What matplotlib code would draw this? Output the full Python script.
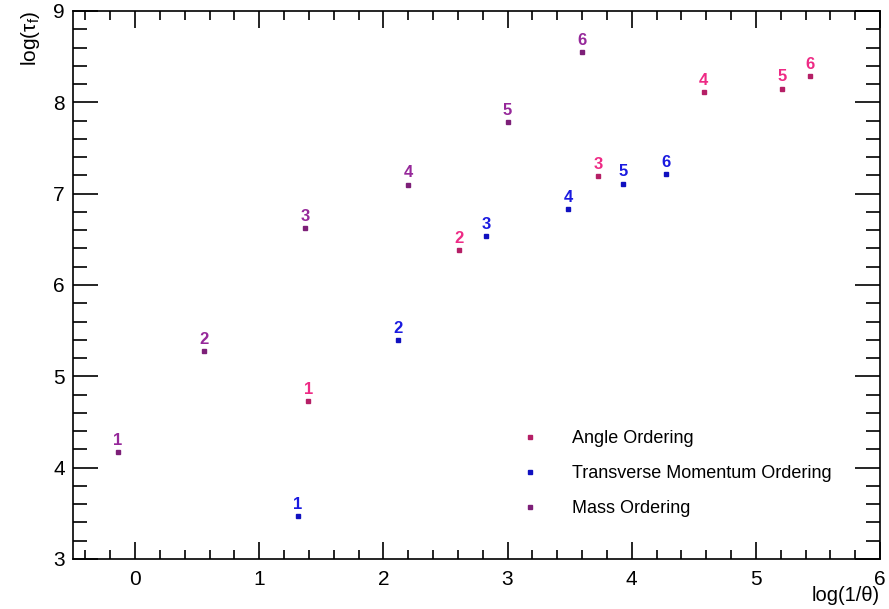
import matplotlib
matplotlib.use("Agg")
import matplotlib.pyplot as plt
from matplotlib.ticker import MultipleLocator

plt.rcParams['font.family'] = ['Liberation Sans', 'DejaVu Sans']
plt.rcParams['mathtext.fontset'] = 'custom'
plt.rcParams['mathtext.rm'] = 'Liberation Sans'
plt.rcParams['mathtext.it'] = 'Liberation Sans'

labels = ["1", "2", "3", "4", "5", "6"]

angle_x = [1.395, 2.61, 3.73, 4.58, 5.21, 5.44]
angle_y = [4.73, 6.38, 7.19, 8.11, 8.15, 8.29]

pt_x = [1.31, 2.12, 2.83, 3.49, 3.93, 4.28]
pt_y = [3.47, 5.40, 6.54, 6.83, 7.11, 7.21]

mass_x = [-0.137, 0.556, 1.37, 2.20, 3.00, 3.60]
mass_y = [4.17, 5.28, 6.62, 7.10, 7.78, 8.55]

series = [
    ("Angle Ordering", angle_x, angle_y, "#b51f66", "#ee2a85"),
    ("Transverse Momentum Ordering", pt_x, pt_y, "#1010c0", "#1a1ae0"),
    ("Mass Ordering", mass_x, mass_y, "#7d1f78", "#96289a"),
]

fig = plt.figure(figsize=(8.89, 6.09), dpi=100)
ax = fig.add_axes([73/889, 1 - 559/609, (880-73)/889, (559-11)/609])

for name, xs, ys, mc, lc in series:
    ax.plot(xs, ys, linestyle='none', marker='s', markersize=3.2,
            color=mc, label=name)
    for x, y, t in zip(xs, ys, labels):
        ax.annotate(t, (x, y), xytext=(0, 3), textcoords='offset points',
                    ha='center', va='bottom', color=lc, fontsize=12,
                    fontweight='bold')

ax.set_xlim(-0.5, 6)
ax.set_ylim(3, 9)
ax.xaxis.set_major_locator(MultipleLocator(1))
ax.xaxis.set_minor_locator(MultipleLocator(0.2))
ax.yaxis.set_major_locator(MultipleLocator(1))
ax.yaxis.set_minor_locator(MultipleLocator(0.2))
ax.tick_params(which='both', direction='in', top=True, right=True,
               labelsize=15, width=1.2, colors='black')
ax.tick_params(axis='x', which='major', length=12, pad=8)
ax.tick_params(axis='x', which='minor', length=6.5)
ax.tick_params(axis='y', which='major', length=18, pad=6)
ax.tick_params(axis='y', which='minor', length=10)
for s in ax.spines.values():
    s.set_linewidth(1.2)

ax.set_xlabel("log(1/θ)", fontsize=14.5, ha='right')
ax.xaxis.set_label_coords(1.0, -0.05)
ax.set_ylabel("log(τ$_f$)", fontsize=15, loc='top', labelpad=8)

leg = ax.legend(loc='upper left', bbox_to_anchor=(0.535, 0.265), frameon=False,
                fontsize=13, handlelength=1.0, handletextpad=1.8,
                labelspacing=1.0, markerscale=1.0)

fig.savefig("out.png", dpi=100)
